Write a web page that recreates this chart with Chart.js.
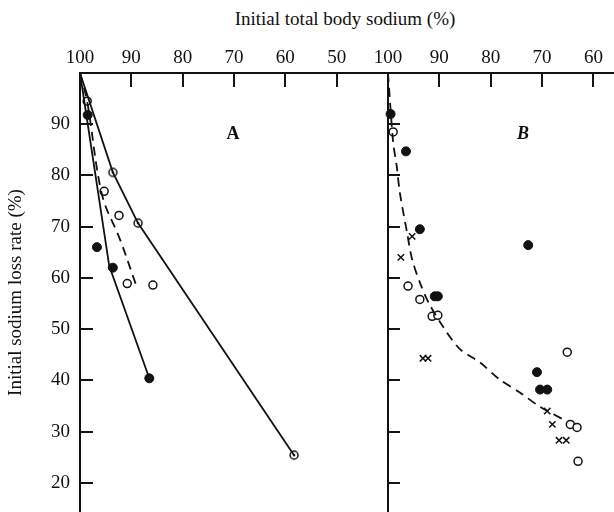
<!DOCTYPE html>
<html>
<head>
<meta charset="utf-8">
<script src="https://cdn.jsdelivr.net/npm/chart.js@4.4.0/dist/chart.umd.min.js"></script>
<style>
  html, body { margin: 0; padding: 0; background: #fff; overflow: hidden; }
  #wrap { position: relative; width: 614px; height: 512px; overflow: hidden; }
  #title { position: absolute; left: 0; top: 8px; width: 690px; text-align: center;
           font: 19px "Liberation Serif", "Times New Roman", serif; color: #111; }
  #chartA { position: absolute; left: 0; top: 0; }
  #chartB { position: absolute; left: 350px; top: 0; }
</style>
</head>
<body>
<div id="wrap">
  <div id="title">Initial total body sodium (%)</div>
  <canvas id="chartA" width="400" height="512"></canvas>
  <canvas id="chartB" width="264" height="512"></canvas>
</div>
<script>
// tick values
const xTicksA = [100, 90, 80, 70, 60, 50];
const xTicksB = [100, 90, 80, 70, 60];
const yTicks = [90, 80, 70, 60, 50, 40, 30, 20];

// panel A: solid line through filled points
const aFilledLineX = [100, 94.3, 86.5];
const aFilledLineY = [100, 62.3, 40.4];
const aFilledX = [98.5, 96.7, 93.6, 86.5];
const aFilledY = [91.8, 66, 62, 40.4];
// panel A: solid line with dotted circles
const aDotX = [100, 93.6, 88.7, 58.3];
const aDotY = [100, 80.6, 70.7, 25.4];
// panel A: dashed curve and open circles
const aDashX = [100, 98.6, 95.7, 92.2, 89.0];
const aDashY = [100, 94.4, 76.2, 67.5, 58.4];
const aOpenX = [98.6, 95.3, 92.4, 90.8, 85.8];
const aOpenY = [94.5, 76.9, 72.2, 58.9, 58.6];

// panel B
const bFilledX = [99.5, 96.5, 93.8, 72.7, 90.9, 90.3, 71.0, 70.4, 69.0];
const bFilledY = [92, 84.7, 69.5, 66.4, 56.4, 56.4, 41.6, 38.2, 38.2];
const bOpenX = [99, 96.1, 93.8, 91.4, 90.3, 65.1, 64.5, 63.2, 63.0];
const bOpenY = [88.5, 58.4, 55.8, 52.5, 52.7, 45.5, 31.4, 30.8, 24.2];
const bCrossX = [97.5, 95.3, 93.2, 92.2, 69.0, 68.0, 66.7, 65.3];
const bCrossY = [64, 68.1, 44.3, 44.3, 34, 31.4, 28.3, 28.3];
const bDashX = [100, 99.0, 98.3, 97.7, 96.3, 95.3, 93.6, 92.0, 89.3, 86.0, 82.1, 78.3, 74.4, 70.5, 65.2];
const bDashY = [100, 86.5, 81.8, 76.7, 68.9, 63.6, 58.6, 55.0, 50.5, 46.1, 43.5, 40.2, 37.7, 34.9, 32.0];

const ink = "#111";
const serif = '"Liberation Serif", "Times New Roman", serif';
Chart.defaults.font.family = serif;
Chart.defaults.color = ink;

const pts = (xs, ys) => xs.map((x, i) => ({ x, y: ys[i] }));

// open circle with a dot in the middle
function circleDot(r) {
    const c = document.createElement("canvas");
    const s = Math.ceil(2 * r + 4);
    c.width = s; c.height = s;
    const g = c.getContext("2d");
    g.beginPath();
    g.arc(s / 2, s / 2, r, 0, Math.PI * 2);
    g.fillStyle = "#fff";
    g.fill();
    g.lineWidth = 1.5;
    g.strokeStyle = ink;
    g.stroke();
    g.beginPath();
    g.arc(s / 2, s / 2, 1.3, 0, Math.PI * 2);
    g.fillStyle = ink;
    g.fill();
    return c;
}

function lineSet(xs, ys, dashed, tension) {
    return {
        data: pts(xs, ys), showLine: true, borderColor: ink, borderWidth: 1.8,
        borderDash: dashed ? [9, 6] : [], tension: tension || 0,
        pointRadius: 0, clip: false
    };
}

function markSet(xs, ys, kind) {
    const base = { data: pts(xs, ys), showLine: false, clip: false, borderColor: ink };
    if (kind === "filled") return { ...base, pointStyle: "circle", pointRadius: 4.5, backgroundColor: ink, borderWidth: 1 };
    if (kind === "open") return { ...base, pointStyle: "circle", pointRadius: 4, backgroundColor: "#fff", borderWidth: 1.5 };
    if (kind === "cross") return { ...base, pointStyle: "crossRot", pointRadius: 4.5, borderWidth: 1.5 };
    return { ...base, pointStyle: circleDot(4), pointRadius: 4 };
}

// inward tick marks as filled bars at the scale's tick positions
const inwardTicks = {
    id: "inwardTicks",
    afterDraw(chart, args, opts) {
        const { ctx, chartArea, scales } = chart;
        ctx.save();
        ctx.fillStyle = "rgb(20,20,20)";
        scales.x.ticks.forEach((t) => {
            const px = Math.round(scales.x.getPixelForValue(t.value));
            ctx.fillRect(px - 1, chartArea.top, 2, opts.xLen);
        });
        scales.y.ticks.forEach((t) => {
            const py = Math.round(scales.y.getPixelForValue(t.value));
            ctx.fillRect(chartArea.left, py - 1, opts.yLen, 2);
        });
        ctx.restore();
    }
};

const panelLabel = {
    id: "panelLabel",
    afterDraw(chart, args, opts) {
        const { ctx, scales } = chart;
        ctx.save();
        ctx.font = opts.font;
        ctx.fillStyle = ink;
        ctx.textAlign = "center";
        ctx.textBaseline = "middle";
        ctx.fillText(opts.text, scales.x.getPixelForValue(opts.x), scales.y.getPixelForValue(opts.y));
        ctx.restore();
    }
};

function xScale(min, ticks) {
    return {
        type: "linear", position: "top", reverse: true, min, max: 100,
        afterBuildTicks: (ax) => { ax.ticks = ticks.map((v) => ({ value: v })); },
        afterFit: (ax) => { ax.height = 73; ax.paddingLeft = 0; ax.paddingRight = 0; },
        grid: { display: true, drawOnChartArea: false, drawTicks: false },
        border: { display: true, color: ink, width: 2 },
        ticks: { padding: 4, font: { size: 19 }, color: ink, maxRotation: 0, autoSkip: false }
    };
}

function yScale(showLabels) {
    return {
        type: "linear", min: 14.3, max: 100,
        afterBuildTicks: (ax) => { ax.ticks = yTicks.map((v) => ({ value: v })); },
        afterFit: (ax) => { ax.width = showLabels ? 80 : 0; ax.paddingTop = 0; ax.paddingBottom = 0; },
        grid: { display: true, drawOnChartArea: false, drawTicks: false },
        border: { display: true, color: ink, width: 2 },
        ticks: { display: showLabels, padding: 10, font: { size: 19 }, color: ink, autoSkip: false },
        title: {
            display: showLabels, text: "Initial sodium loss rate (%)",
            font: { size: 19 }, color: ink, padding: { top: 5, bottom: 0 }
        }
    };
}

new Chart(document.getElementById("chartA"), {
    type: "scatter",
    data: {
        datasets: [
            lineSet(aFilledLineX, aFilledLineY, false),
            lineSet(aDotX, aDotY, false),
            lineSet(aDashX, aDashY, true, 0.35),
            markSet(aOpenX, aOpenY, "open"),
            markSet(aFilledX, aFilledY, "filled"),
            markSet(aDotX.slice(1), aDotY.slice(1), "dot")
        ]
    },
    options: {
        responsive: false,
        animation: false,
        layout: { autoPadding: false, padding: { left: 0, right: 12, top: 0, bottom: 0 } },
        plugins: {
            legend: { display: false },
            tooltip: { enabled: false },
            inwardTicks: { xLen: 14, yLen: 13 },
            panelLabel: { text: "A", x: 70.2, y: 88, font: "bold 18px " + serif }
        },
        scales: { x: xScale(40, xTicksA), y: yScale(true) }
    },
    plugins: [inwardTicks, panelLabel]
});

new Chart(document.getElementById("chartB"), {
    type: "scatter",
    data: {
        datasets: [
            lineSet(bDashX, bDashY, true, 0.3),
            markSet(bOpenX, bOpenY, "open"),
            markSet(bCrossX, bCrossY, "cross"),
            markSet(bFilledX, bFilledY, "filled")
        ]
    },
    options: {
        responsive: false,
        animation: false,
        layout: { autoPadding: false, padding: { left: 38, right: 0, top: 0, bottom: 0 } },
        plugins: {
            legend: { display: false },
            tooltip: { enabled: false },
            inwardTicks: { xLen: 14, yLen: 12 },
            panelLabel: { text: "B", x: 73.7, y: 88, font: "italic bold 18px " + serif }
        },
        scales: { x: xScale(56, xTicksB), y: yScale(false) }
    },
    plugins: [inwardTicks, panelLabel]
});
</script>
</body>
</html>
